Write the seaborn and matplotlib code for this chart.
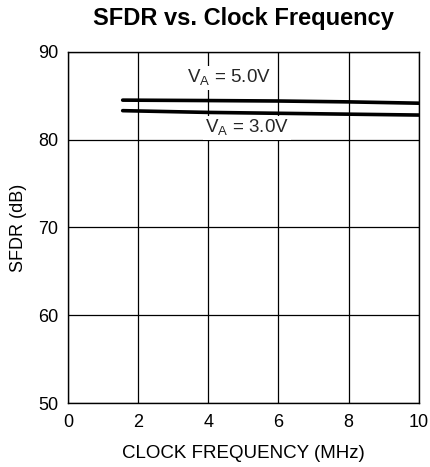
import matplotlib
matplotlib.use("Agg")
import matplotlib.pyplot as plt
import seaborn as sns
import pandas as pd

freq = [1.56, 4.0, 6.0, 8.0, 10.0]
sfdr_5v = [84.5, 84.45, 84.4, 84.3, 84.15]
sfdr_3v = [83.3, 83.1, 83.0, 82.9, 82.8]
xticks = [0, 2, 4, 6, 8, 10]
yticks = [50, 60, 70, 80, 90]

sns.set_theme(style="white")
plt.rcParams['font.family'] = ['Liberation Sans', 'DejaVu Sans']

df = pd.DataFrame({
    "freq": freq * 2,
    "sfdr": sfdr_5v + sfdr_3v,
    "va": ["5.0V"] * len(freq) + ["3.0V"] * len(freq),
})

fig = plt.figure(figsize=(4.3, 4.67), dpi=100)
ax = fig.add_axes([0.158, 0.137, 0.816, 0.752])
sns.lineplot(data=df, x="freq", y="sfdr", hue="va", palette=["black", "black"],
             linewidth=2.6, legend=False, ax=ax)

ax.set_xlim(0, 10)
ax.set_ylim(50, 90)
ax.set_xticks(xticks)
ax.set_yticks(yticks)
ax.grid(True, color="black", linewidth=0.9)
for s in ax.spines.values():
    s.set_color("black")
    s.set_linewidth(1.0)
ax.tick_params(axis="both", labelsize=13, colors="black", length=0)
ax.tick_params(axis="y", pad=7)
ax.tick_params(axis="x", pad=8)
ax.set_xlabel("CLOCK FREQUENCY (MHz)", fontsize=13.5, color="black", labelpad=10)
ax.set_ylabel("SFDR (dB)", fontsize=13, color="black", labelpad=8)
ax.set_title("SFDR vs. Clock Frequency", fontsize=17, fontweight="bold", color="black", pad=19)

bbox = dict(facecolor="white", edgecolor="none", pad=1.5)
ax.text(4.6, 87.0, "V$_\\mathregular{A}$ = 5.0V", fontsize=13.5, ha="center", va="center", bbox=bbox)
ax.text(5.1, 81.3, "V$_\\mathregular{A}$ = 3.0V", fontsize=13.5, ha="center", va="center", bbox=bbox)

fig.savefig("out.png", dpi=100)
